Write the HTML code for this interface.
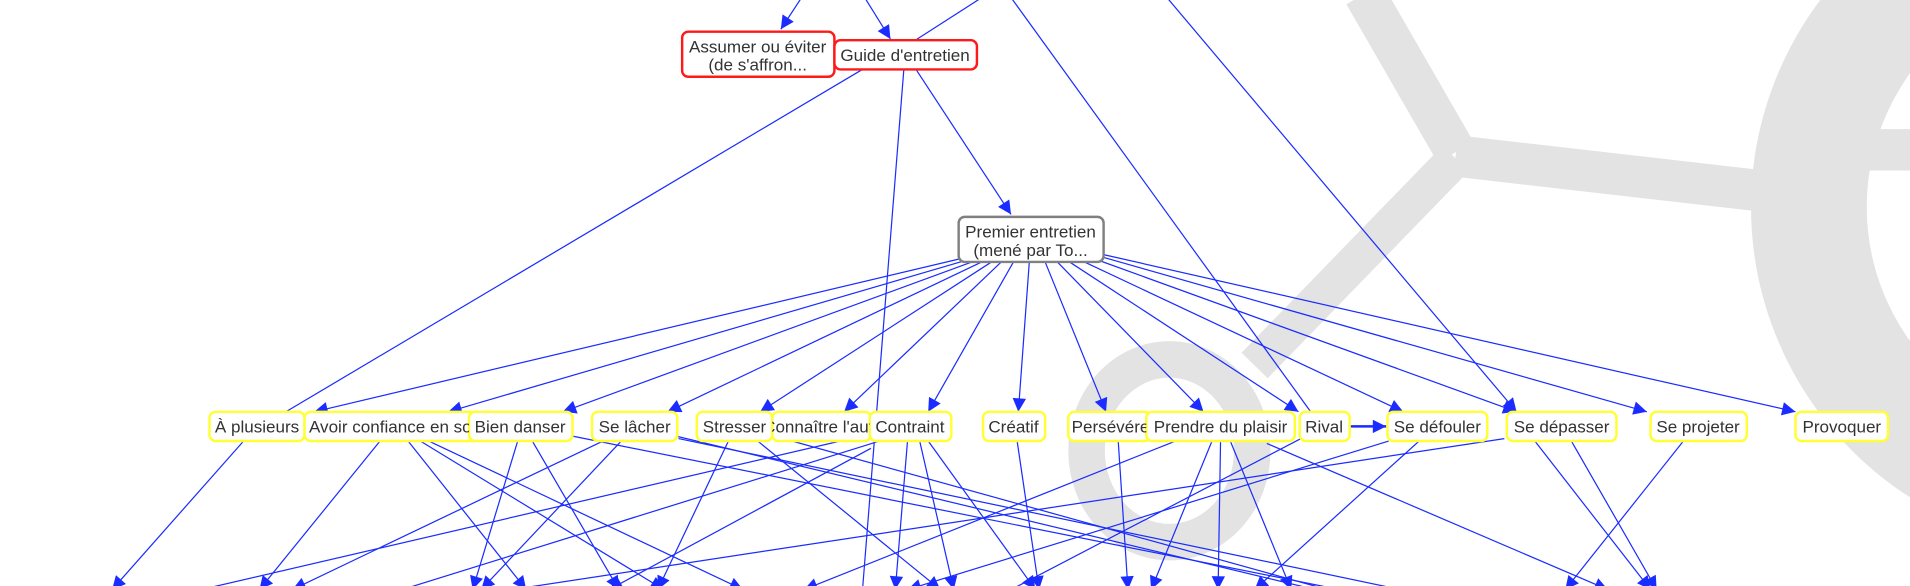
<!DOCTYPE html>
<html><head><meta charset="utf-8"><style>
html,body{margin:0;padding:0;background:#fff;width:1910px;height:586px;overflow:hidden}
svg{display:block}
text{font-family:"Liberation Sans",sans-serif;font-size:14px;fill:#333;text-anchor:middle}
</style></head><body>
<svg width="1910" height="586" viewBox="0 0 1568 481" preserveAspectRatio="none">
<defs><marker id="a" viewBox="0 0 10 10" refX="10" refY="5" markerWidth="16" markerHeight="11" markerUnits="userSpaceOnUse" orient="auto"><path d="M0,0 L10,5 L0,10 z" fill="#1a2cff"/></marker></defs>
<g fill="none" stroke="#e3e3e3">
<path d="M1120,-5 L1195,125" stroke-width="34"/>
<path d="M1195,128 L1440,156" stroke-width="34"/>
<path d="M1195,130 L1030,300" stroke-width="30"/>
<ellipse cx="960" cy="370" rx="68" ry="75" stroke-width="30"/>
<circle cx="1720" cy="170" r="235" stroke-width="95"/>
<path d="M1500,123 L1568,123" stroke-width="34"/>
</g>
<g stroke="#1a2cff" stroke-width="1" fill="none">
<line x1="660" y1="-5" x2="641" y2="24" marker-end="url(#a)"/>
<line x1="708" y1="-5" x2="731" y2="32" marker-end="url(#a)"/>
<line x1="806" y1="-2" x2="750" y2="34"/>
<line x1="830" y1="-2" x2="1076" y2="338"/>
<line x1="958" y1="-2" x2="1245" y2="338" marker-end="url(#a)"/>
<line x1="708" y1="57" x2="233" y2="339"/>
<line x1="742" y1="57" x2="708" y2="485"/>
<line x1="752" y1="57" x2="830" y2="176" marker-end="url(#a)"/>
<line x1="790" y1="212" x2="258" y2="338" marker-end="url(#a)"/>
<line x1="792" y1="214" x2="368" y2="338" marker-end="url(#a)"/>
<line x1="798" y1="215" x2="462" y2="338" marker-end="url(#a)"/>
<line x1="806" y1="215" x2="548" y2="338" marker-end="url(#a)"/>
<line x1="814" y1="215" x2="624" y2="338" marker-end="url(#a)"/>
<line x1="822" y1="215" x2="693" y2="338" marker-end="url(#a)"/>
<line x1="832" y1="215" x2="762" y2="338" marker-end="url(#a)"/>
<line x1="845" y1="215" x2="836" y2="338" marker-end="url(#a)"/>
<line x1="858" y1="215" x2="908" y2="338" marker-end="url(#a)"/>
<line x1="868" y1="215" x2="988" y2="338" marker-end="url(#a)"/>
<line x1="878" y1="215" x2="1066" y2="338" marker-end="url(#a)"/>
<line x1="888" y1="214" x2="1152" y2="338" marker-end="url(#a)"/>
<line x1="900" y1="213" x2="1245" y2="338" marker-end="url(#a)"/>
<line x1="905" y1="211" x2="1352" y2="338" marker-end="url(#a)"/>
<line x1="906" y1="209" x2="1474" y2="338" marker-end="url(#a)"/>
<line x1="1108" y1="350" x2="1138" y2="350" stroke-width="2" marker-end="url(#a)"/>
<line x1="200" y1="362" x2="92" y2="484" marker-end="url(#a)"/>
<line x1="312" y1="362" x2="213" y2="484" marker-end="url(#a)"/>
<line x1="335" y1="362" x2="432" y2="484" marker-end="url(#a)"/>
<line x1="345" y1="362" x2="545" y2="484" marker-end="url(#a)"/>
<line x1="352" y1="362" x2="610" y2="484" marker-end="url(#a)"/>
<line x1="425" y1="362" x2="388" y2="484" marker-end="url(#a)"/>
<line x1="437" y1="362" x2="508" y2="484" marker-end="url(#a)"/>
<line x1="470" y1="358" x2="1100" y2="484"/>
<line x1="495" y1="362" x2="240" y2="484" marker-end="url(#a)"/>
<line x1="510" y1="362" x2="395" y2="484" marker-end="url(#a)"/>
<line x1="555" y1="358" x2="1080" y2="484"/>
<line x1="557" y1="360" x2="1150" y2="484"/>
<line x1="598" y1="362" x2="540" y2="484" marker-end="url(#a)"/>
<line x1="622" y1="362" x2="772" y2="484" marker-end="url(#a)"/>
<line x1="650" y1="362" x2="1090" y2="484"/>
<line x1="690" y1="362" x2="165" y2="484"/>
<line x1="715" y1="368" x2="500" y2="484" marker-end="url(#a)"/>
<line x1="722" y1="362" x2="330" y2="484"/>
<line x1="745" y1="362" x2="735" y2="484" marker-end="url(#a)"/>
<line x1="755" y1="362" x2="783" y2="484" marker-end="url(#a)"/>
<line x1="762" y1="362" x2="850" y2="484" marker-end="url(#a)"/>
<line x1="835" y1="362" x2="853" y2="484" marker-end="url(#a)"/>
<line x1="918" y1="362" x2="926" y2="484" marker-end="url(#a)"/>
<line x1="965" y1="362" x2="660" y2="484" marker-end="url(#a)"/>
<line x1="995" y1="362" x2="945" y2="484" marker-end="url(#a)"/>
<line x1="1002" y1="362" x2="1000" y2="484" marker-end="url(#a)"/>
<line x1="1010" y1="362" x2="1060" y2="484" marker-end="url(#a)"/>
<line x1="1040" y1="364" x2="1320" y2="484" marker-end="url(#a)"/>
<line x1="1068" y1="360" x2="830" y2="484"/>
<line x1="1140" y1="362" x2="745" y2="484" marker-end="url(#a)"/>
<line x1="1165" y1="362" x2="1030" y2="484" marker-end="url(#a)"/>
<line x1="1235" y1="360" x2="420" y2="484"/>
<line x1="1260" y1="362" x2="1355" y2="484" marker-end="url(#a)"/>
<line x1="1290" y1="362" x2="1360" y2="484" marker-end="url(#a)"/>
<line x1="1382" y1="362" x2="1285" y2="484" marker-end="url(#a)"/>
</g>
<g stroke-width="2" fill="#fff">
<rect x="560" y="26" width="125" height="37" rx="5" stroke="#ff1a1a"/>
<rect x="685" y="33" width="117" height="24" rx="5" stroke="#ff1a1a"/>
<rect x="787" y="178" width="119" height="37" rx="5" stroke="#808080"/>
<g stroke="#ffff33">
<rect x="172" y="338" width="78" height="24" rx="5"/>
<rect x="250" y="338" width="142" height="24" rx="5"/>
<rect x="634" y="338" width="81" height="24" rx="5"/>
<rect x="385" y="338" width="85" height="24" rx="5"/>
<rect x="486" y="338" width="70" height="24" rx="5"/>
<rect x="572" y="338" width="62" height="24" rx="5"/>
<rect x="714" y="338" width="67" height="24" rx="5"/>
<rect x="807" y="338" width="51" height="24" rx="5"/>
<rect x="877" y="338" width="68" height="24" rx="5"/>
<rect x="941" y="338" width="122" height="24" rx="5"/>
<rect x="1067" y="338" width="41" height="24" rx="5"/>
<rect x="1139" y="338" width="82" height="24" rx="5"/>
<rect x="1237" y="338" width="90" height="24" rx="5"/>
<rect x="1355" y="338" width="79" height="24" rx="5"/>
<rect x="1474" y="338" width="76" height="24" rx="5"/>
</g></g>
<text x="622" y="43">Assumer ou éviter</text>
<text x="622" y="58">(de s'affron...</text>
<text x="743" y="50">Guide d'entretien</text>
<text x="846" y="195">Premier entretien</text>
<text x="846" y="210">(mené par To...</text>
<g>
<text x="211" y="355">À plusieurs</text>
<svg x="250" y="338" width="135" height="24"><text x="72" y="17">Avoir confiance en soi</text></svg>
<svg x="634" y="338" width="80" height="24"><text x="44" y="17">Connaître l'autre</text></svg>
<text x="427" y="355">Bien danser</text>
<text x="521" y="355">Se lâcher</text>
<text x="603" y="355">Stresser</text>
<text x="747" y="355">Contraint</text>
<text x="832" y="355">Créatif</text>
<svg x="877" y="338" width="64" height="24"><text x="37" y="17">Persévérer</text></svg>
<text x="1002" y="355">Prendre du plaisir</text>
<text x="1087" y="355">Rival</text>
<text x="1180" y="355">Se défouler</text>
<text x="1282" y="355">Se dépasser</text>
<text x="1394" y="355">Se projeter</text>
<text x="1512" y="355">Provoquer</text>
</g>
</svg>
</body></html>
